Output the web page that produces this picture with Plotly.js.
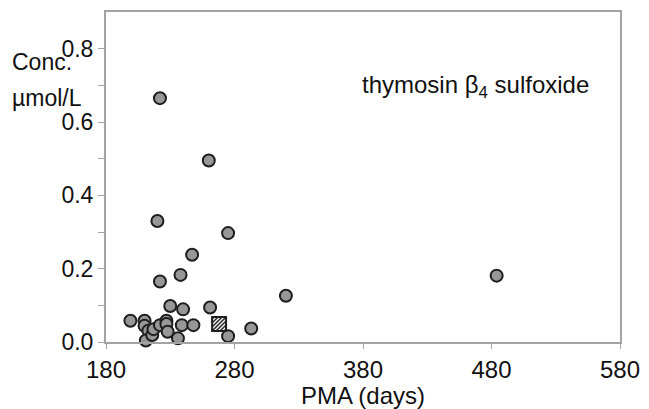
<!DOCTYPE html>
<html>
<head>
<meta charset="utf-8">
<script src="https://cdn.plot.ly/plotly-3.0.1.min.js"></script>
<style>html,body{margin:0;padding:0;background:#fff;}#chart{width:649px;height:409px;}</style>
</head>
<body>
<div id="chart"></div>
<script>
// Circles: PMA (days) and concentration (µmol/L)
const pmaDays = [199, 210, 210, 213, 211, 216, 217, 222, 227, 227, 228, 230, 236, 239, 240, 248, 261, 275, 293, 320, 238, 222, 247, 220, 275, 260, 222, 484];
const concValues = [0.058, 0.058, 0.044, 0.031, 0.004, 0.019, 0.035, 0.046, 0.058, 0.049, 0.028, 0.098, 0.010, 0.046, 0.089, 0.046, 0.094, 0.016, 0.037, 0.126, 0.183, 0.165, 0.238, 0.330, 0.297, 0.495, 0.665, 0.181];
// Hatched square point
const squareDays = [268];
const squareConc = [0.049];
// Tick labels
const xTickVals = [180, 280, 380, 480, 580];
const xTickText = ['180', '280', '380', '480', '580'];
const yTickVals = [0, 0.2, 0.4, 0.6, 0.8];
const yTickText = ['0.0', '0.2', '0.4', '0.6', '0.8'];

const FONT = 'Liberation Sans, Arial, sans-serif';
const axisGray = '#a3a3a3';

const traces = [
  {
    type: 'scatter', mode: 'markers', x: pmaDays, y: concValues,
    marker: {symbol: 'circle', size: 12, color: '#979797', line: {color: '#1e1e1e', width: 2}},
    cliponaxis: false, hoverinfo: 'x+y'
  },
  {
    type: 'scatter', mode: 'markers', x: squareDays, y: squareConc,
    marker: {symbol: 'square', size: 14, color: '#ffffff', line: {color: '#1e1e1e', width: 2}},
    cliponaxis: false, hoverinfo: 'x+y'
  }
];

const layout = {
  width: 649, height: 409,
  margin: {l: 106, r: 29, t: 12, b: 67, pad: 0},
  paper_bgcolor: '#ffffff', plot_bgcolor: '#ffffff',
  showlegend: false,
  font: {family: FONT, size: 24, color: '#111111'},
  xaxis: {
    range: [180, 580], tickvals: xTickVals, ticktext: xTickText,
    showgrid: false, zeroline: false,
    showline: true, linecolor: axisGray, linewidth: 2, mirror: true,
    ticks: 'outside', ticklen: 5, tickcolor: axisGray, tickwidth: 1,
    tickfont: {family: FONT, size: 24, color: '#111'},
    title: {text: 'PMA (days)', font: {family: FONT, size: 24, color: '#111'}, standoff: 0}
  },
  yaxis: {
    range: [0, 0.9], tickvals: yTickVals, ticktext: yTickText,
    showgrid: false, zeroline: false,
    showline: true, linecolor: axisGray, linewidth: 2, mirror: true,
    ticks: 'outside', ticklen: 6, tickcolor: axisGray, tickwidth: 1,
    tickfont: {family: FONT, size: 23, color: '#111'},
    minor: {tickvals: [0.1, 0.3, 0.5, 0.7], ticks: 'outside', ticklen: 6, tickcolor: axisGray, showgrid: false}
  },
  annotations: [
    {xref: 'paper', yref: 'paper', x: 0.718, y: 0.775, xanchor: 'center', yanchor: 'middle',
     text: 'thymosin β<sub>4</sub> sulfoxide', showarrow: false,
     font: {family: FONT, size: 24, color: '#111'}},
    {xref: 'paper', yref: 'paper', x: -0.187, y: 0.85, xanchor: 'left', yanchor: 'middle',
     text: 'Conc.', showarrow: false, font: {family: FONT, size: 23, color: '#111'}},
    {xref: 'paper', yref: 'paper', x: -0.187, y: 0.74, xanchor: 'left', yanchor: 'middle',
     text: 'µmol/L', showarrow: false, font: {family: FONT, size: 23, color: '#111'}}
  ]
};

Plotly.newPlot('chart', traces, layout, {displayModeBar: false, staticPlot: true}).then(function (gd) {
  const svg = gd.querySelector('svg.main-svg');
  const ns = 'http://www.w3.org/2000/svg';
  let defs = svg.querySelector('defs');
  if (!defs) { defs = document.createElementNS(ns, 'defs'); svg.insertBefore(defs, svg.firstChild); }
  const pat = document.createElementNS(ns, 'pattern');
  pat.setAttribute('id', 'hatchSquare');
  pat.setAttribute('patternUnits', 'userSpaceOnUse');
  pat.setAttribute('width', '4');
  pat.setAttribute('height', '4');
  const bg = document.createElementNS(ns, 'rect');
  bg.setAttribute('width', '4'); bg.setAttribute('height', '4'); bg.setAttribute('fill', '#ffffff');
  pat.appendChild(bg);
  const p = document.createElementNS(ns, 'path');
  p.setAttribute('d', 'M-1,1 L1,-1 M0,4 L4,0 M3,5 L5,3');
  p.setAttribute('stroke', '#1e1e1e');
  p.setAttribute('stroke-width', '1.5');
  pat.appendChild(p);
  defs.appendChild(pat);
  const tr = gd.querySelectorAll('.scatterlayer .trace');
  if (tr.length > 1) {
    tr[1].querySelectorAll('path.point').forEach(function (pt) {
      pt.style.fill = 'url(#hatchSquare)';
    });
  }
});
</script>
</body>
</html>
